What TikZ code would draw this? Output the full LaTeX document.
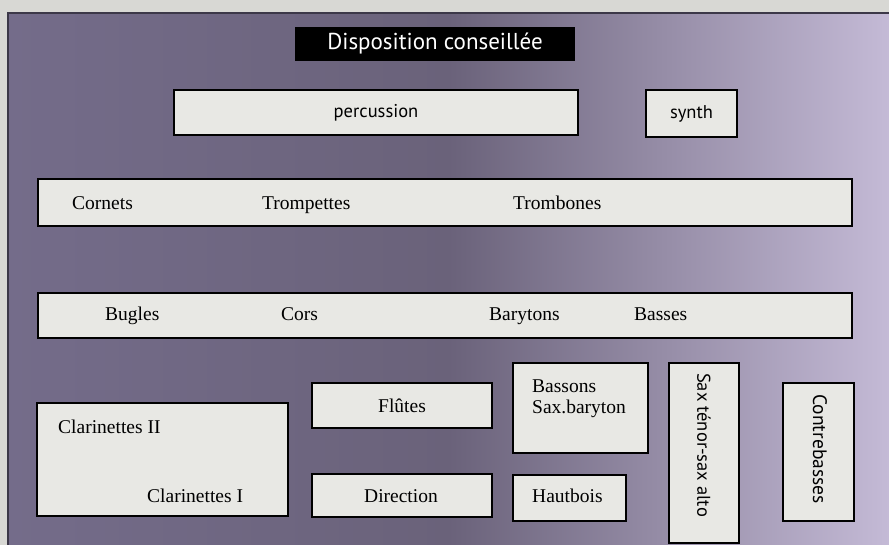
\documentclass[tikz,border=0pt]{standalone}
\usepackage{fontspec}
\setmainfont{Liberation Serif}
\newfontfamily\gillfont{PT Sans}
\usetikzlibrary{positioning}
\definecolor{paper}{RGB}{216,216,212}
\definecolor{panelL}{RGB}{116,108,138}
\definecolor{panelM}{RGB}{106,98,122}
\definecolor{panelR}{RGB}{196,186,214}
\definecolor{panelline}{RGB}{60,56,72}
\definecolor{boxfill}{RGB}{232,232,228}
\tikzstyle{stand} = [rectangle, draw=black, line width=1.8pt, fill=boxfill, inner sep=0pt]
\tikzstyle{titlebox} = [rectangle, fill=black, text=white, inner sep=0pt, font=\gillfont\fontsize{23}{25}\selectfont]
\tikzstyle{sanslabel} = [inner sep=0pt, font=\gillfont\fontsize{18.5}{22}\selectfont]
\tikzstyle{player} = [inner sep=0pt, anchor=base west, font=\fontsize{19.5}{22}\selectfont]

\begin{document}
\begin{tikzpicture}[x=1pt, y=-1pt]
    \useasboundingbox (0,0) rectangle (889,545);
    % Background
    \fill [paper] (0,0) rectangle (889,545);
    \shade [left color=panelL, right color=panelR, middle color=panelM] (8,13) rectangle (889,545);
    \draw [panelline, line width=1.5pt] (889,13) -- (8,13) -- (8,545);

    % Nodes
    \node [titlebox, minimum width=280pt, minimum height=34pt] (titre) at (435,44) {Disposition conseillée};
    \node [stand, sanslabel, minimum width=404pt, minimum height=45pt] (percussion) at (376,112.5) {percussion};
    \node [stand, sanslabel, minimum width=91pt, minimum height=47pt] (synth) at (691.5,113.5) {synth};

    \node [stand, minimum width=814pt, minimum height=47pt] (cuivres) at (445,202.5) {};
    \node [player] (cornets) at (72,210) {Cornets};
    \node [player] (trompettes) at (262,210) {Trompettes};
    \node [player] (trombones) at (513,210) {Trombones};

    \node [stand, minimum width=814pt, minimum height=45pt] (graves) at (445,315.5) {};
    \node [player] (bugles) at (105,321) {Bugles};
    \node [player] (cors) at (281,321) {Cors};
    \node [player] (barytons) at (489,321) {Barytons};
    \node [player] (basses) at (634,321) {Basses};

    \node [stand, minimum width=251pt, minimum height=113pt] (clarinettes) at (162.5,459.5) {};
    \node [player] (clarII) at (58,433) {Clarinettes II};
    \node [player] (clarI) at (147,502) {Clarinettes I};

    \node [stand, minimum width=180pt, minimum height=45pt] (flutes) at (402,405.5) {};
    \node [player, anchor=base] (flutesT) at (402,412) {Flûtes};
    \node [stand, minimum width=180pt, minimum height=43pt] (direction) at (402,495.5) {};
    \node [player, anchor=base] (directionT) at (401,502) {Direction};

    \node [stand, minimum width=135pt, minimum height=90pt] (bassons) at (580.5,408) {};
    \node [player] (bassonsT) at (532,392) {Bassons};
    \node [player] (saxbarytonT) at (532,413) {Sax.baryton};
    \node [stand, minimum width=113pt, minimum height=46pt] (hautbois) at (569.5,498) {};
    \node [player] (hautboisT) at (532,502) {Hautbois};

    \node [stand, minimum width=70pt, minimum height=180pt] (saxalto) at (704,453) {};
    \node [sanslabel, rotate=-90] (saxaltoT) at (704,445) {Sax ténor-sax alto};
    \node [stand, minimum width=71pt, minimum height=138pt] (contrebasses) at (818.5,452) {};
    \node [sanslabel, rotate=-90, font=\gillfont\fontsize{19.5}{22}\selectfont] (contrebassesT) at (820,449) {Contrebasses};
\end{tikzpicture}
\end{document}
